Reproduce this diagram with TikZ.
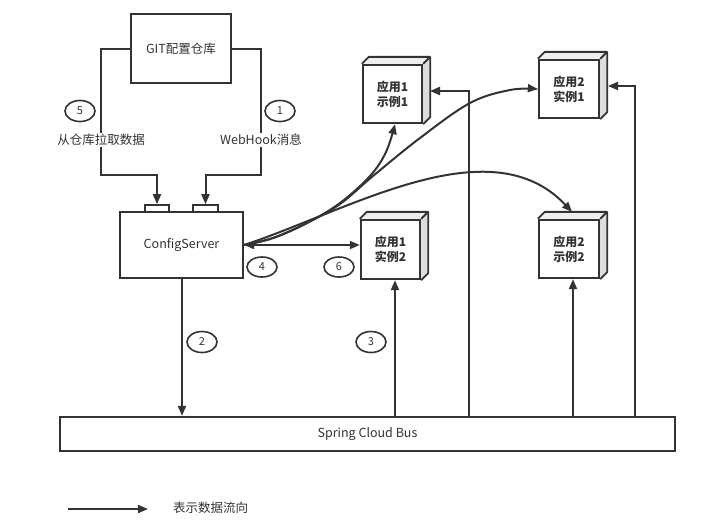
\documentclass[tikz,border=0pt]{standalone}
\usepackage{fontspec}
\setmainfont{Noto Sans CJK SC}
\usetikzlibrary{arrows.meta,shapes.geometric,calc}
\definecolor{ink}{HTML}{333333}
\definecolor{topface}{HTML}{EEEEEE}
\definecolor{sideface}{HTML}{DDDDDD}
\tikzset{
  box/.style={draw=ink, line width=2.3pt, fill=white, inner sep=0pt, font=\fontsize{12.5}{15}\selectfont, text=ink},
  appbox/.style={box, font=\fontsize{12}{15}\selectfont\bfseries, align=center, minimum width=59pt, minimum height=58pt},
  face/.style={draw=ink, line width=1.8pt, line join=round},
  arr/.style={draw=ink, line width=2pt, -{Triangle[length=10pt,width=8pt]}},
  darr/.style={draw=ink, line width=2pt, {Triangle[length=10pt,width=8pt]}-{Triangle[length=10pt,width=8pt]}},
  num/.style={ellipse, draw=ink, line width=1.6pt, minimum width=30pt, minimum height=21pt, inner sep=0pt, font=\fontsize{11}{12}\selectfont, text=ink},
  lbl/.style={font=\fontsize{12.5}{15}\selectfont, text=ink, inner sep=1pt}
}
\newcommand\cubefaces[1]{%
  \fill[topface] (#1.north west) -- ++(7,-7) -- ([shift={(7,-7)}]#1.north east) -- (#1.north east) -- cycle;
  \fill[sideface] (#1.north east) -- ++(7,-7) -- ([shift={(7,-7)}]#1.south east) -- (#1.south east) -- cycle;
  \draw[face] (#1.north west) -- ++(7,-7) -- ([shift={(7,-7)}]#1.north east) -- ([shift={(7,-7)}]#1.south east) -- (#1.south east);
  \draw[face] (#1.north east) -- ++(7,-7);
}
\begin{document}
\begin{tikzpicture}[x=1pt,y=-1pt]
\useasboundingbox (0,0) rectangle (707,528);

% main boxes
\node[box, minimum width=100pt, minimum height=69pt] (git) at (181,48.5) {GIT配置仓库};
\node[box, minimum width=123pt, minimum height=66pt] (cs) at (181.5,245) {ConfigServer};
\node[box, line width=1.6pt, minimum width=24pt, minimum height=7pt] (tab1) at (157,208.5) {};
\node[box, line width=1.6pt, minimum width=25pt, minimum height=7pt] (tab2) at (205.5,208.5) {};
\node[box, minimum width=615pt, minimum height=34pt] (bus) at (367.5,434) {Spring Cloud Bus};

% app boxes
\node[appbox] (a11) at (392.5,94) {应用1\\示例1};
\node[appbox, minimum width=60pt] (a21) at (569,89) {应用2\\实例1};
\node[appbox, minimum height=59pt] (a12) at (390.5,249.5) {应用1\\实例2};
\node[appbox, minimum width=60pt] (a22) at (569,249) {应用2\\示例2};
\cubefaces{a11}
\cubefaces{a21}
\cubefaces{a12}
\cubefaces{a22}

% number labels
\node[num] (n5) at (80,111) {5};
\node[num] (n1) at (280,111) {1};
\node[num] (n2) at (202,342) {2};
\node[num] (n3) at (371,342) {3};
\node[num, minimum height=20pt] (n4) at (262,267) {4};
\node[num, minimum height=20pt] (n6) at (339,267) {6};

% coordinates
\coordinate (l1) at (101,175);
\coordinate (r1) at (261,175);
\coordinate (b3) at (395,0);
\coordinate (b4) at (469,91);
\coordinate (t4) at (430,91);
\coordinate (b5) at (573,0);
\coordinate (b6) at (635,86);
\coordinate (t6) at (608,86);
\coordinate (b2) at (182,0);

% GIT connectors
\draw[arr] (git.west) -| (l1) -| (tab1.north);
\draw[arr] (git.east) -| (r1) -| (tab2.north);
\node[lbl, fill=white] (t5) at (101,140) {从仓库拉取数据};
\node[lbl, fill=white] (t1) at (261,140) {WebHook消息};

% ConfigServer <-> app1 inst2
\draw[darr] (cs.east) -- (cs.east -| a12.west);

% curves
\draw[arr] plot[smooth, tension=0.6] coordinates {(cs.east) (273,238) (307,223) (340,203) (370,176) (386,152) ([xshift=2.5pt]a11.south)};
\draw[arr] plot[smooth, tension=0.6] coordinates {(cs.east) (273,238) (307,223) (340,204) (373,176) (420,138) (470,103) (510,90) (a21.west)};
\draw[arr] (cs.east) .. controls (350,210) and (490,125) .. ([shift={(3,-7)}]a22.north);

% bus connectors
\draw[arr] (cs.south -| b2) -- (b2 |- bus.north);
\draw[arr] (b3 |- bus.north) -- (b3 |- a12.south);
\draw[arr] (b4 |- bus.north) -- (b4) -- (t4);
\draw[arr] (b5 |- bus.north) -- (b5 |- a22.south);
\draw[arr] (b6 |- bus.north) -- (b6) -- (t6);

% legend
\coordinate (lg1) at (68,509);
\coordinate (lg2) at (148,509);
\draw[arr] (lg1) -- (lg2);
\node[lbl, anchor=west] (lgt) at (172,508) {表示数据流向};
\end{tikzpicture}
\end{document}
